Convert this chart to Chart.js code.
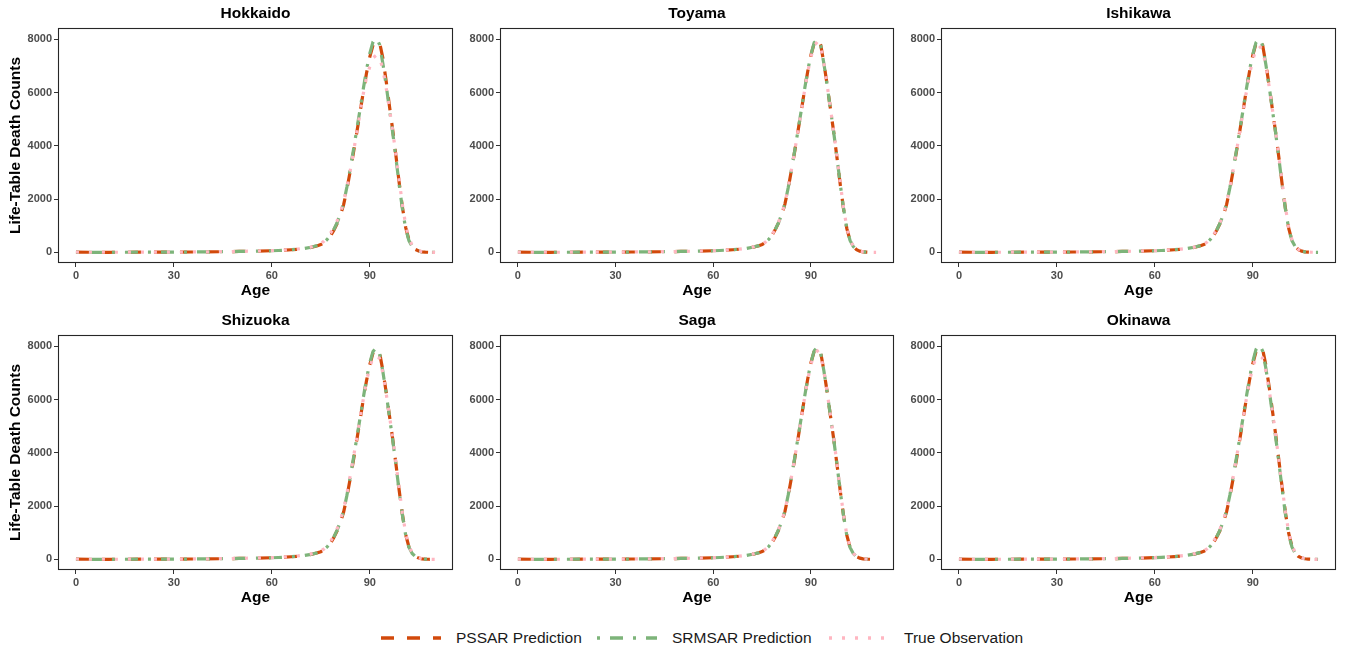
<!DOCTYPE html>
<html>
<head>
<meta charset="utf-8">
<title>Life-Table Death Counts</title>
<script src="https://cdn.jsdelivr.net/npm/chart.js@4.4.1/dist/chart.umd.min.js"></script>
<style>
  body { margin: 0; background: #fff; width: 1346px; height: 650px; position: relative; overflow: hidden;
         font-family: "Liberation Sans", Arial, Helvetica, sans-serif; }
  .panel { position: absolute; }
  .key { position: absolute; top: 628px; height: 20px; display: flex; align-items: center; }
  .key svg { display: block; }
  .key span { margin-left: 15px; font-size: 15.5px; color: #1a1a1a; }
</style>
</head>
<body>
<div id="panels"></div>
<div class="key" style="left:381px">
  <svg width="60" height="10"><line x1="0" y1="5" x2="60" y2="5" stroke="#D2490B" stroke-width="3.6" stroke-dasharray="13 13"/></svg>
  <span>PSSAR Prediction</span>
</div>
<div class="key" style="left:597px">
  <svg width="60" height="10"><line x1="0" y1="5" x2="60" y2="5" stroke="#7DB47A" stroke-width="3.6" stroke-dasharray="3 10 13 10"/></svg>
  <span>SRMSAR Prediction</span>
</div>
<div class="key" style="left:829px">
  <svg width="60" height="10"><line x1="0" y1="5" x2="60" y2="5" stroke="#FFB6C1" stroke-width="3.6" stroke-dasharray="3 10"/></svg>
  <span>True Observation</span>
</div>
<script>
// Ages (single years from 74 on, coarser below where counts are ~0)
const ages = [0,5,10,15,20,25,30,35,40,45,50,55,60,62,64,66,68,70,72,
  74,75,76,77,78,79,80,81,82,83,84,85,86,87,88,89,90,91,92,93,94,95,96,97,98,99,
  100,101,102,103,104,105,106,107,108,109,110];
const xTicks = [0, 30, 60, 90];
const yTicks = [0, 2000, 4000, 6000, 8000];
const regions = ['Hokkaido', 'Toyama', 'Ishikawa', 'Shizuoka', 'Saga', 'Okinawa'];
const seriesNames = ['PSSAR Prediction', 'SRMSAR Prediction', 'True Observation'];

// Life-table death counts by region
const hokkaidoPssar  = [8,2,2,4,6,7,9,12,17,24,33,45,60,70,82,98,118,145,185, 245,290,360,465,620,830, 1080,1390,1790,2370,3040,3740,4480,5230,6000,6720, 7330,7780,7950,7880,7300,6450,5520,4620,3650,2630, 1700,940,470,230,105,48,20,8,3,1,0];
const hokkaidoSrmsar = [8,2,2,4,6,7,9,12,17,24,33,45,60,70,82,98,118,145,190, 255,300,375,490,650,860, 1110,1440,1850,2450,3130,3840,4590,5340,6120,6850, 7460,7900,8050,7800,7100,6300,5400,4520,3560,2550, 1640,890,440,215,95,42,18,7,3,1,0];
const hokkaidoObs    = [12,3,3,5,7,8,10,13,18,25,35,48,65,75,88,105,125,155,200, 270,330,420,560,720,930, 1180,1490,1880,2430,3060,3750,4480,5210,5940,6560, 6960,7300,7400,7320,6880,6200,5420,4580,3680,2720, 1800,1020,530,260,120,55,25,10,4,2,1];

const toyamaPssar  = [8,2,2,4,6,7,9,12,17,24,33,45,60,70,82,98,118,145,188, 250,295,368,478,635,845, 1095,1410,1810,2400,3080,3790,4540,5290,6060,6790, 7400,7850,8020,7780,7080,6260,5370,4500,3540,2540, 1640,900,450,220,100,45,19,8,3,1,0];
const toyamaSrmsar = [8,2,2,4,6,7,9,12,17,24,33,45,60,70,82,98,118,145,190, 252,298,372,484,642,852, 1100,1420,1820,2420,3100,3810,4560,5310,6090,6820, 7420,7870,8000,7760,7060,6240,5350,4490,3540,2550, 1650,900,445,218,98,44,19,8,3,1,0];
const toyamaObs    = [10,3,3,5,6,8,10,13,18,25,34,46,62,72,85,100,120,150,195, 260,305,380,495,655,865, 1120,1440,1840,2430,3100,3800,4540,5280,6040,6760, 7340,7760,7900,7720,7060,6260,5380,4520,3580,2590, 1680,930,470,230,105,48,21,9,4,2,1];

const ishikawaPssar  = [8,2,2,4,6,7,9,12,17,24,33,45,60,70,82,98,118,145,187, 248,292,365,472,628,838, 1090,1400,1800,2390,3070,3780,4530,5290,6060,6780, 7390,7840,8010,7790,7090,6280,5380,4510,3560,2560, 1650,905,450,222,100,45,19,8,3,1,0];
const ishikawaSrmsar = [8,2,2,4,6,7,9,12,17,24,33,45,60,70,82,98,118,145,190, 252,297,370,482,640,850, 1100,1420,1830,2430,3110,3820,4570,5320,6100,6830, 7430,7880,8030,7770,7060,6250,5360,4490,3530,2530, 1630,890,440,215,96,43,18,7,3,1,0];
const ishikawaObs    = [11,3,3,5,7,8,10,13,18,25,35,47,64,74,87,103,123,153,198, 262,310,385,500,660,870, 1130,1450,1850,2440,3100,3790,4520,5250,5990,6680, 7230,7620,7750,7600,7000,6240,5380,4530,3600,2620, 1700,950,480,235,108,50,22,9,4,2,1];

const shizuokaPssar  = [8,2,2,4,6,7,9,12,17,24,33,45,60,70,82,98,118,145,184, 245,288,358,462,615,822, 1070,1380,1775,2350,3020,3720,4460,5210,5980,6700, 7300,7750,7930,7760,7100,6300,5420,4550,3600,2600, 1690,930,465,228,103,47,20,8,3,1,0];
const shizuokaSrmsar = [8,2,2,4,6,7,9,12,17,24,33,45,60,70,82,98,118,145,188, 250,294,366,475,632,842, 1095,1410,1810,2400,3080,3790,4530,5280,6050,6770, 7370,7800,7950,7740,7060,6260,5380,4510,3560,2570, 1660,910,455,222,100,45,19,8,3,1,0];
const shizuokaObs    = [12,3,3,5,7,8,10,13,18,26,36,49,66,76,90,107,128,158,204, 265,312,390,508,670,885, 1150,1470,1880,2470,3130,3820,4550,5280,6000,6680, 7220,7560,7650,7540,7000,6250,5420,4580,3650,2660, 1740,980,500,245,112,52,23,10,4,2,1];

const sagaPssar  = [8,2,2,4,6,7,9,12,17,24,33,45,60,70,82,98,118,145,186, 246,290,362,468,622,830, 1080,1395,1790,2380,3060,3770,4520,5280,6050,6770, 7380,7820,7960,7750,7060,6260,5370,4500,3550,2560, 1650,905,450,222,100,45,19,8,3,1,0];
const sagaSrmsar = [8,2,2,4,6,7,9,12,17,24,33,45,60,70,82,98,118,145,189, 250,295,368,478,636,846, 1100,1415,1815,2410,3090,3800,4550,5300,6070,6790, 7390,7830,7970,7740,7050,6240,5360,4490,3540,2550, 1640,900,445,218,98,44,19,8,3,1,0];
const sagaObs    = [10,3,3,5,6,8,10,13,18,25,34,46,63,73,86,101,121,151,196, 258,304,378,490,650,860, 1115,1430,1830,2420,3090,3790,4530,5270,6030,6740, 7320,7720,7820,7660,7040,6260,5390,4530,3580,2590, 1680,925,465,228,104,47,21,9,4,2,1];

const okinawaPssar  = [8,2,2,4,6,7,9,12,17,24,34,47,63,74,87,104,125,153,195, 255,300,372,480,636,845, 1090,1400,1790,2370,3040,3740,4480,5230,6000,6720, 7340,7800,7980,7900,7300,6500,5600,4700,3720,2700, 1760,980,490,240,110,50,21,9,3,1,0];
const okinawaSrmsar = [8,2,2,4,6,7,9,12,17,24,34,47,63,74,87,104,126,155,198, 260,306,380,492,650,862, 1110,1430,1830,2420,3100,3810,4550,5300,6070,6790, 7420,7880,8060,7830,7180,6380,5480,4600,3640,2630, 1700,940,465,228,104,47,20,8,3,1,0];
const okinawaObs    = [12,3,3,5,7,8,10,13,18,26,36,50,68,79,93,110,132,162,208, 270,318,395,512,675,890, 1150,1470,1870,2450,3110,3800,4530,5260,5990,6680, 7220,7570,7650,7560,7080,6380,5550,4680,3720,2720, 1800,1020,520,255,116,54,24,10,4,2,1];

const panelSeries = [
  [hokkaidoPssar, hokkaidoSrmsar, hokkaidoObs],
  [toyamaPssar, toyamaSrmsar, toyamaObs],
  [ishikawaPssar, ishikawaSrmsar, ishikawaObs],
  [shizuokaPssar, shizuokaSrmsar, shizuokaObs],
  [sagaPssar, sagaSrmsar, sagaObs],
  [okinawaPssar, okinawaSrmsar, okinawaObs]
];

// line look for each series (dashed / dot-dash / dotted)
const seriesStyle = [
  { color: '#D2490B', dash: [13, 13], order: 3 },
  { color: '#7DB47A', dash: [3, 10, 13, 10], order: 2 },
  { color: '#FFB6C1', dash: [3, 10], order: 1 }
];

// grid placement of the 2x3 panels
const colLeft = [0, 460, 901];
const colWidth = [460, 441, 445];
const yAxisWidth = [58, 40, 40];
const padRight = [7, 7, 10];
const rowTop = [0, 307];
const panelHeight = 303;

const fontFamily = '"Liberation Sans", Arial, Helvetica, sans-serif';
Chart.defaults.font.family = fontFamily;

// box around the plot area + panel title
const panelFrame = {
  id: 'panelFrame',
  afterDatasetsDraw(chart, args, opts) {
    const { ctx, chartArea: a } = chart;
    ctx.save();
    ctx.strokeStyle = '#262626';
    ctx.lineWidth = 1.1;
    ctx.strokeRect(a.left + 0.5, a.top + 0.5, a.right - a.left - 1, a.bottom - a.top - 1);
    ctx.font = 'bold 15.5px ' + fontFamily;
    ctx.fillStyle = '#000';
    ctx.textAlign = 'center';
    ctx.textBaseline = 'middle';
    ctx.fillText(opts.text, (a.left + a.right) / 2, 14);
    ctx.restore();
  }
};

const holder = document.getElementById('panels');

regions.forEach((name, p) => {
  const col = p % 3, row = Math.floor(p / 3);
  const div = document.createElement('div');
  div.className = 'panel';
  div.style.left = colLeft[col] + 'px';
  div.style.top = rowTop[row] + 'px';
  const canvas = document.createElement('canvas');
  canvas.width = colWidth[col];
  canvas.height = panelHeight;
  div.appendChild(canvas);
  holder.appendChild(div);

  const datasets = panelSeries[p].map((vals, s) => ({
    label: seriesNames[s],
    data: ages.map((a, i) => ({ x: a, y: vals[i] })),
    borderColor: seriesStyle[s].color,
    borderDash: seriesStyle[s].dash,
    borderWidth: 3.2,
    borderCapStyle: 'butt',
    pointRadius: 0,
    tension: 0,
    fill: false,
    order: seriesStyle[s].order
  }));

  new Chart(canvas, {
    type: 'line',
    data: { datasets },
    options: {
      responsive: false,
      animation: false,
      layout: { padding: { top: 28, right: padRight[col], bottom: 0, left: 0 } },
      plugins: {
        legend: { display: false },
        tooltip: { enabled: false },
        panelFrame: { text: name }
      },
      scales: {
        x: {
          type: 'linear',
          min: -5.5,
          max: 115.5,
          afterBuildTicks: scale => { scale.ticks = xTicks.map(v => ({ value: v })); },
          afterFit: scale => { scale.height = 40; },
          grid: { drawOnChartArea: false, drawTicks: true, tickLength: 4, color: '#333' },
          border: { display: false },
          ticks: { color: '#4D4D4D', padding: 2, maxRotation: 0, font: { size: 11, weight: 'bold' } },
          title: { display: true, text: 'Age', color: '#000', padding: { top: 0, bottom: 3 },
                   font: { size: 15.5, weight: 'bold' } }
        },
        y: {
          min: -400,
          max: 8420,
          afterBuildTicks: scale => { scale.ticks = yTicks.map(v => ({ value: v })); },
          afterFit: scale => { scale.width = yAxisWidth[col]; },
          grid: { drawOnChartArea: false, drawTicks: true, tickLength: 4, color: '#333' },
          border: { display: false },
          ticks: { color: '#4D4D4D', padding: 2, font: { size: 11, weight: 'bold' },
                   callback: v => String(v) },
          title: { display: col === 0, text: 'Life-Table Death Counts', color: '#000',
                   padding: { top: 6, bottom: 0 }, font: { size: 15.5, weight: 'bold' } }
        }
      }
    },
    plugins: [panelFrame]
  });
});
</script>
</body>
</html>
